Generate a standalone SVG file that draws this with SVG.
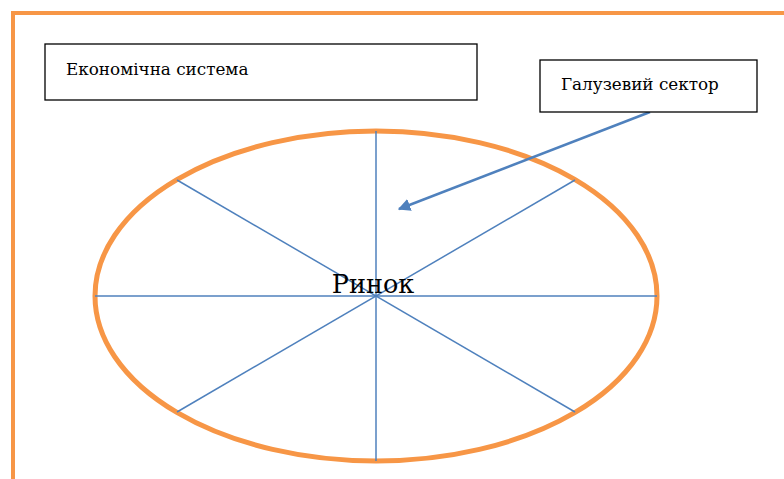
<svg xmlns="http://www.w3.org/2000/svg" width="784" height="479" viewBox="0 0 784 479">
<style>
.frame{fill:none;stroke:#F79646;stroke-width:4}
.box{fill:#fff;stroke:#000;stroke-width:1.3}
.spoke{stroke:#4F81BD;stroke-width:1.5;fill:none}
.lbl{font-family:'DejaVu Serif',serif;fill:#000}
</style>
<defs>
<marker id="ah" viewBox="0 0 10 10" refX="9" refY="5" markerWidth="5" markerHeight="5" orient="auto" markerUnits="strokeWidth">
<path d="M0,0 L10,5 L0,10 z" fill="#4F81BD"/>
</marker>
</defs>
<g id="frame">
<path class="frame" d="M13,479 L13,13 L784,13"/>
</g>
<g id="market">
<ellipse cx="376" cy="296" rx="281" ry="165" fill="none" stroke="#F79646" stroke-width="5"/>
</g>
<g id="connectors">
<line class="spoke" x1="376" y1="131" x2="376" y2="461"/>
<line class="spoke" x1="95" y1="296" x2="657" y2="296"/>
<line class="spoke" x1="177" y1="180" x2="575" y2="412"/>
<line class="spoke" x1="575" y1="180" x2="177" y2="412"/>
<line x1="650" y1="112" x2="399" y2="209" stroke="#4F81BD" stroke-width="2.5" marker-end="url(#ah)"/>
</g>
<g id="market-label">
<text class="lbl" x="373" y="293" font-size="25.5" text-anchor="middle">Ринок</text>
</g>
<g id="economic-system">
<rect class="box" x="45" y="44" width="432" height="56"/>
<text class="lbl" x="66" y="75" font-size="16.8">Економічна система</text>
</g>
<g id="industry-sector">
<rect class="box" x="540" y="60" width="217" height="52"/>
<text class="lbl" x="561" y="90" font-size="16.8">Галузевий сектор</text>
</g>
</svg>
